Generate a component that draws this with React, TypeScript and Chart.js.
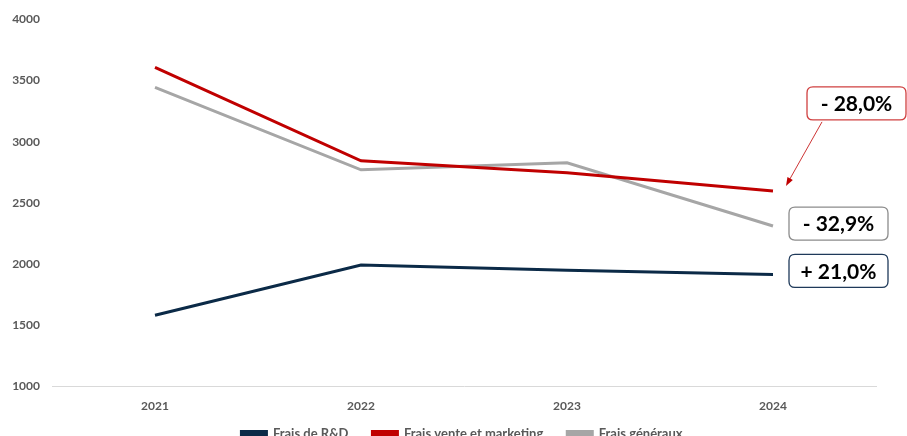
import React, { useEffect, useRef } from "react";
import { Chart, registerables } from "chart.js";

Chart.register(...registerables);

const years = ["2021", "2022", "2023", "2024"];
const rdValues = [1582, 1992, 1951, 1916];
const salesValues = [3607, 2844, 2746, 2598];
const generalValues = [3443, 2770, 2828, 2311];
const seriesNames = ["Frais de R&D", "Frais vente et marketing", "Frais généraux"];
const changeLabels = ["+ 21,0%", "- 28,0%", "- 32,9%"];
const yTicks = [1000, 1500, 2000, 2500, 3000, 3500, 4000];

const NAVY = "#0B2A47";
const RED = "#C00000";
const GREY = "#A6A6A6";
const FONT = "Lato, 'Liberation Sans', sans-serif";

function roundRect(ctx: CanvasRenderingContext2D, x: number, y: number, w: number, h: number, r: number) {
  ctx.beginPath();
  ctx.moveTo(x + r, y);
  ctx.lineTo(x + w - r, y);
  ctx.quadraticCurveTo(x + w, y, x + w, y + r);
  ctx.lineTo(x + w, y + h - r);
  ctx.quadraticCurveTo(x + w, y + h, x + w - r, y + h);
  ctx.lineTo(x + r, y + h);
  ctx.quadraticCurveTo(x, y + h, x, y + h - r);
  ctx.lineTo(x, y + r);
  ctx.quadraticCurveTo(x, y, x + r, y);
  ctx.closePath();
}

const legendShift = {
  id: "legendShift",
  afterLayout(chart: any) {
    const lg = chart.legend;
    if (!lg) return;
    const dx = 24, dy = -22;
    lg.left += dx; lg.right += dx;
    lg.top += dy; lg.bottom += dy;
  },
};

const annotationPlugin = {
  id: "changeBoxes",
  afterDraw(chart: any) {
    const ctx: CanvasRenderingContext2D = chart.ctx;
    const xs = chart.scales.x;
    const ys = chart.scales.y;
    const last = years.length - 1;
    const px = xs.getPixelForValue(last);
    const pRD = ys.getPixelForValue(rdValues[last]);
    const pSales = ys.getPixelForValue(salesValues[last]);
    const pGen = ys.getPixelForValue(generalValues[last]);

    const drawBox = (x: number, y: number, color: string, text: string) => {
      const w = 99, h = 33;
      ctx.save();
      roundRect(ctx, x, y, w, h, 6);
      ctx.fillStyle = "#ffffff";
      ctx.fill();
      ctx.lineWidth = 1.3;
      ctx.strokeStyle = color;
      ctx.stroke();
      ctx.fillStyle = "#000000";
      ctx.font = `bold 21px ${FONT}`;
      ctx.textAlign = "center";
      ctx.textBaseline = "middle";
      ctx.fillText(text, x + w / 2, y + h / 2 + 1);
      ctx.restore();
    };

    drawBox(px + 34, pSales - 104, "#D04040", changeLabels[1]);
    drawBox(px + 16, pGen - 19, "#8C8C8C", changeLabels[2]);
    drawBox(px + 16, pRD - 20, "#1F3A5A", changeLabels[0]);

    // arrow
    const x1 = px + 49, y1 = pSales - 69;
    const x2 = px + 13, y2 = pSales - 5;
    ctx.save();
    ctx.strokeStyle = RED;
    ctx.fillStyle = RED;
    ctx.lineWidth = 0.8;
    const ang = Math.atan2(y2 - y1, x2 - x1);
    const hl = 9;
    ctx.beginPath();
    ctx.moveTo(x1, y1);
    ctx.lineTo(x2 - Math.cos(ang) * hl * 0.8, y2 - Math.sin(ang) * hl * 0.8);
    ctx.stroke();
    ctx.beginPath();
    ctx.moveTo(x2, y2);
    ctx.lineTo(x2 - hl * Math.cos(ang - 0.35), y2 - hl * Math.sin(ang - 0.35));
    ctx.lineTo(x2 - hl * Math.cos(ang + 0.35), y2 - hl * Math.sin(ang + 0.35));
    ctx.closePath();
    ctx.fill();
    ctx.restore();
  },
};

export default function App() {
  const ref = useRef<HTMLCanvasElement>(null);
  useEffect(() => {
    if (!ref.current) return;
    const chart = new Chart(ref.current, {
      type: "line",
      data: {
        labels: years,
        datasets: [
          { label: seriesNames[0], data: rdValues, borderColor: NAVY, backgroundColor: NAVY, borderWidth: 3, pointRadius: 0, tension: 0 },
          { label: seriesNames[1], data: salesValues, borderColor: RED, backgroundColor: RED, borderWidth: 3, pointRadius: 0, tension: 0 },
          { label: seriesNames[2], data: generalValues, borderColor: GREY, backgroundColor: GREY, borderWidth: 3, pointRadius: 0, tension: 0 },
        ],
      },
      options: {
        responsive: false,
        animation: false,
        layout: { padding: { top: 15, right: 31, left: 0, bottom: 0 } },
        plugins: {
          tooltip: { enabled: false },
          legend: {
            position: "bottom",
            labels: {
              boxWidth: 25,
              boxHeight: 4,
              padding: 24,
              color: "#595959",
              font: { family: FONT, size: 13, weight: "bold" },
            },
          },
        },
        scales: {
          x: {
            offset: true,
            grid: { display: false, drawTicks: false },
            border: { display: true, color: "#D9D9D9", width: 1 },
            ticks: { color: "#595959", padding: 12, font: { family: FONT, size: 12, weight: "bold" } },
          },
          y: {
            min: 1000,
            max: 4000,
            afterBuildTicks: (s: any) => { s.ticks = yTicks.map((v) => ({ value: v })); },
            afterFit: (s: any) => { s.width = 52; },
            grid: { display: false, drawTicks: false },
            border: { display: false },
            ticks: { color: "#595959", padding: 12, callback: (v: any) => String(v), font: { family: FONT, size: 12, weight: "bold" } },
          },
        },
      },
      plugins: [legendShift, annotationPlugin],
    } as any);
    return () => chart.destroy();
  }, []);
  return (
    <div style={{ position: "fixed", left: 0, top: 0, width: 907, height: 472, background: "#fff" }}>
      <canvas ref={ref} width={907} height={472} />
    </div>
  );
}
